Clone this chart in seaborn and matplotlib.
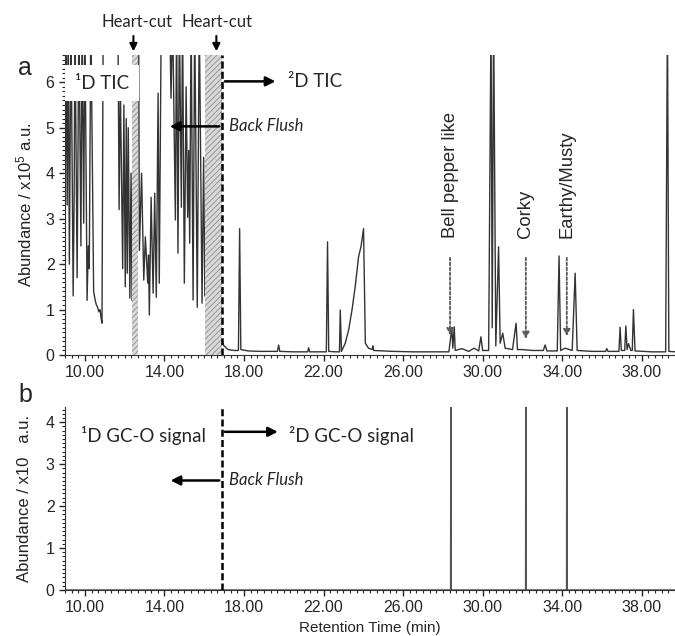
import seaborn as sns
import matplotlib.pyplot as plt
from matplotlib.ticker import MultipleLocator

# TIC trace (1D up to the valve switch, 2D after it), abundance in 1e5 a.u.
# values above the axis top are saturated peaks
tic_time = [9.02, 9.05, 9.11, 9.16, 9.22, 9.30, 9.41, 9.46, 9.50, 9.61, 9.70, 9.80, 9.86, 9.94,
            10.00, 10.11, 10.17, 10.22, 10.30, 10.44, 10.52, 10.58, 10.64, 10.70, 10.76, 10.82,
            10.86, 10.92, 11.66, 11.72, 11.78, 11.90, 11.96, 12.03, 12.08, 12.13, 12.18, 12.26,
            12.32, 12.37, 12.45, 12.60, 12.70, 12.74, 12.85, 12.96, 13.04, 13.16, 13.20, 13.24,
            13.33, 13.43, 13.51, 13.59, 13.68, 13.74, 13.84, 14.26, 14.33, 14.41, 14.55, 14.61,
            14.68, 14.75, 14.85, 14.91, 15.00, 15.09, 15.17, 15.22, 15.27, 15.34, 15.44, 15.52,
            15.65, 15.75, 15.89, 15.97, 16.03, 16.20, 16.50, 16.80,
            16.90, 17.00, 17.20, 17.50, 17.72, 17.78, 17.84, 18.20, 18.80, 19.68, 19.74, 19.80,
            20.50, 21.20, 21.25, 21.30, 22.14, 22.20, 22.26, 22.60, 22.80, 22.84, 22.90, 23.09,
            23.26, 23.43, 23.59, 23.76, 23.88, 24.01, 24.10, 24.26, 24.45, 24.48, 24.52, 25.50,
            26.50, 27.50, 28.30, 28.45, 28.50, 28.57, 28.62, 28.95, 29.30, 29.57, 29.80, 29.91,
            30.00, 30.30, 30.42, 30.48, 30.55, 30.66, 30.80, 30.88, 31.01, 31.13, 31.50, 31.68,
            31.75, 31.97, 32.50, 33.05, 33.14, 33.23, 33.75, 33.84, 33.92, 34.15, 34.50, 34.65,
            34.75, 35.50, 36.18, 36.24, 36.30, 36.85, 36.91, 36.97, 37.14, 37.20, 37.26, 37.33,
            37.45, 37.52, 37.58, 37.66, 38.50, 39.20, 39.29, 39.36, 39.70]
tic_abund = [4.3, 7.5, 3.3, 7.5, 2.0, 7.5, 1.3, 3.5, 7.5, 1.7, 7.5, 2.4, 7.5, 2.9,
             7.5, 1.2, 2.4, 1.9, 7.5, 1.4, 1.2, 1.1, 1.05, 0.95, 1.0, 0.8,
             0.7, 7.5, 7.5, 3.2, 6.0, 1.9, 5.5, 1.5, 5.2, 1.8, 5.0, 1.25,
             4.0, 1.2, 7.5, 7.5, 7.5, 2.3, 4.0, 1.65, 2.6, 1.58, 2.2, 0.88,
             3.47, 1.36, 3.56, 1.27, 5.76, 1.58, 7.5, 7.5, 5.65, 7.5, 2.97, 7.5,
             2.24, 7.5, 3.25, 7.5, 1.58, 5.9, 3.03, 4.5, 2.46, 7.5, 1.21, 7.5,
             1.05, 7.5, 1.14, 4.35, 1.3, 7.5, 3.0, 0.4,
             0.28, 0.2, 0.12, 0.1, 0.1, 2.78, 0.12, 0.09, 0.08, 0.08, 0.22, 0.08,
             0.07, 0.07, 0.16, 0.07, 0.07, 2.49, 0.08, 0.07, 0.07, 0.99, 0.08, 0.26,
             0.55, 0.99, 1.5, 2.16, 2.38, 2.78, 0.26, 0.15, 0.12, 0.2, 0.1, 0.08,
             0.07, 0.07, 0.07, 0.59, 0.15, 0.62, 0.1, 0.14, 0.08, 0.15, 0.09, 0.4,
             0.1, 0.1, 7.5, 0.6, 7.5, 0.2, 2.38, 0.26, 0.48, 0.15, 0.12, 0.7,
             0.12, 0.12, 0.1, 0.1, 0.22, 0.09, 0.09, 2.18, 0.1, 0.15, 0.1, 1.8,
             0.1, 0.08, 0.08, 0.14, 0.08, 0.08, 0.61, 0.1, 0.1, 0.64, 0.12, 0.25,
             0.1, 0.1, 1.0, 0.09, 0.07, 0.07, 7.5, 0.08, 0.07]

# GC-O detections (sniffing port), abundance in x10 a.u.
gco_time = [28.40, 32.17, 34.23]
gco_signal = [4.5, 4.5, 4.5]

heart_cuts = [(12.37, 12.65), (16.06, 16.89)]
switch_time = 16.9

odour_labels = ['Bell pepper like', 'Corky', 'Earthy/Musty']
odour_time = [28.36, 32.17, 34.23]
odour_tip = [0.37, 0.29, 0.35]

x_ticks = [10, 14, 18, 22, 26, 30, 34, 38]

# build the GC-O trace as narrow pulses on a zero baseline
gco_t = [9.0]
gco_v = [0.0]
for t, h in zip(gco_time, gco_signal):
    gco_t += [t - 0.01, t, t + 0.01]
    gco_v += [0.0, h, 0.0]
gco_t.append(39.7)
gco_v.append(0.0)

sns.set_style('ticks')
plt.rcParams['font.family'] = ['Liberation Sans', 'DejaVu Sans']
plt.rcParams['mathtext.fontset'] = 'custom'
plt.rcParams['mathtext.rm'] = 'Liberation Sans'
plt.rcParams['mathtext.default'] = 'regular'
plt.rcParams['hatch.linewidth'] = 0.6

cal = ['Lato', 'DejaVu Sans']

fig = plt.figure(figsize=(6.75, 6.36), dpi=100)
ax_a = fig.add_axes([0.0963, 0.4418, 0.9037, 0.4717])
ax_b = fig.add_axes([0.0963, 0.0723, 0.9037, 0.2877])

# ---- panel a
sns.lineplot(x=tic_time, y=tic_abund, ax=ax_a, estimator=None, sort=False,
             color='#333333', lw=1.0)
for start, end in heart_cuts:
    ax_a.axvspan(start, end, facecolor='#d9d9d9', edgecolor='#8c8c8c',
                 hatch='//////', lw=0, zorder=3)
ax_a.axvline(switch_time, color='k', ls=(0, (2.8, 1.3)), lw=1.8, zorder=4)

ax_a.set_ylim(0, 6.6)
ax_a.set_yticks(range(0, 7))
ax_a.set_ylabel('Abundance / x10$^{5}$ a.u.', fontsize=12, labelpad=8, color='#222222')

ax_a.text(9.5, 5.98, '¹D TIC', fontsize=13.5, family=cal, va='center', zorder=5,
          bbox=dict(fc='white', ec='none', pad=7))
ax_a.annotate('', xy=(19.72, 6.02), xytext=(switch_time, 6.02),
              arrowprops=dict(arrowstyle='-|>', color='k', lw=1.8, mutation_scale=14))
ax_a.text(20.23, 6.02, '²D TIC', fontsize=13.5, family=cal, va='center')
ax_a.annotate('', xy=(14.13, 5.03), xytext=(switch_time, 5.03),
              arrowprops=dict(arrowstyle='-|>', color='k', lw=1.8, mutation_scale=14), zorder=5)
ax_a.text(17.23, 5.03, 'Back Flush', fontsize=12, family=cal, style='italic', va='center')

for (start, end), tx in zip(heart_cuts, [12.62, 16.64]):
    xa = 12.44 if start < 13 else 16.61
    ax_a.annotate('', xy=(xa, 6.62), xytext=(xa, 7.08), annotation_clip=False,
                  arrowprops=dict(arrowstyle='-|>', color='k', lw=1.5, mutation_scale=11))
    ax_a.text(tx, 7.32, 'Heart-cut', fontsize=12, family=cal, ha='center', va='center',
              clip_on=False)

for lab, t, tip in zip(odour_labels, odour_time, odour_tip):
    ax_a.text(t, 2.57, lab, rotation=90, ha='center', va='bottom', fontsize=13.3)
    ax_a.annotate('', xy=(t, tip), xytext=(t, 2.2),
                  arrowprops=dict(arrowstyle='-|>', color='#5a5a5a', lw=1.3,
                                  ls=(0, (1.5, 1.2)), mutation_scale=10))

# ---- panel b
sns.lineplot(x=gco_t, y=gco_v, ax=ax_b, estimator=None, sort=False,
             color='#555555', lw=1.1)
ax_b.axvline(switch_time, color='k', ls=(0, (2.8, 1.3)), lw=1.8)
ax_b.set_ylim(0, 4.36)
ax_b.set_yticks(range(0, 5))
ax_b.set_ylabel('Abundance / x10   a.u.', fontsize=12, labelpad=10, color='#222222')
ax_b.set_xlabel('Retention Time (min)', fontsize=11)

ax_b.text(9.78, 3.69, '¹D GC-O signal', fontsize=13.5, family=cal, va='center')
ax_b.annotate('', xy=(19.84, 3.77), xytext=(switch_time, 3.77),
              arrowprops=dict(arrowstyle='-|>', color='k', lw=1.8, mutation_scale=14))
ax_b.text(20.27, 3.69, '²D GC-O signal', fontsize=13.5, family=cal, va='center')
ax_b.annotate('', xy=(14.17, 2.61), xytext=(switch_time, 2.61),
              arrowprops=dict(arrowstyle='-|>', color='k', lw=1.8, mutation_scale=14))
ax_b.text(17.23, 2.61, 'Back Flush', fontsize=12, family=cal, style='italic', va='center')

for ax in (ax_a, ax_b):
    ax.set_xlim(9.0, 39.67)
    ax.set_xticks(x_ticks)
    ax.set_xticklabels([f'{v:.2f}' for v in x_ticks])
    ax.xaxis.set_minor_locator(MultipleLocator(1 / 3))
    ax.yaxis.set_minor_locator(MultipleLocator(0.1))
    ax.tick_params(axis='both', which='major', labelsize=11.5, length=4, width=1)
    ax.tick_params(axis='both', which='minor', length=2, width=0.8)
    for s in ('left', 'bottom'):
        ax.spines[s].set_color('#333333')
    sns.despine(ax=ax)

fig.text(0.027, 0.893, 'a', fontsize=18, va='center')
fig.text(0.027, 0.379, 'b', fontsize=18, va='center')

plt.savefig('out.png', dpi=100)
plt.close()
